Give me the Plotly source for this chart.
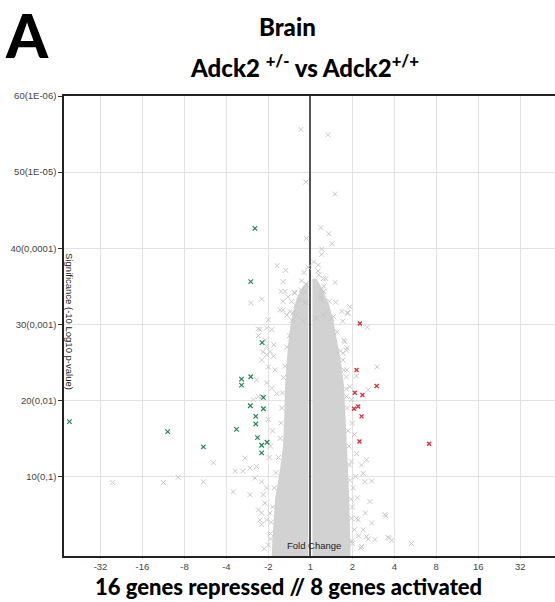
import plotly.graph_objects as go

# ---- axis ticks -------------------------------------------------------------
x_tick_vals = [-5, -4, -3, -2, -1, 0, 1, 2, 3, 4, 5]          # signed log2 fold change
x_tick_text = ["-32", "-16", "-8", "-4", "-2", "1", "2", "4", "8", "16", "32"]
y_tick_vals = [10, 20, 30, 40, 50, 60]
y_tick_text = ["10(0,1)", "20(0,01)", "30(0,001)", "40(0,0001)", "50(1E-05)", "60(1E-06)"]

# ---- dense core of non-significant genes (outline of each lobe) -------------
core_left_fc = [-0.05, -0.05, -0.18, -0.32, -0.42, -0.50, -0.55, -0.60, -0.62, -0.65,
                -0.72, -0.84, -0.90, -0.92]
core_left_sig = [-0.45, 35.5, 35, 33.5, 31.5, 29, 26, 22, 18, 14,
                 11, 7, 2, -0.45]
core_right_fc = [0.05, 0.05, 0.15, 0.30, 0.45, 0.55, 0.63, 0.72, 0.80, 0.84,
                 0.88, 0.92, 0.94, 0.96]
core_right_sig = [-0.45, 36, 36, 34.5, 32.5, 30.5, 28, 25.5, 22, 18,
                  13, 8, 3, -0.45]

# ---- scattered non-significant genes -----------------------------------------
bg_fc = [
    -0.225, 0.42, -0.105, 0.59, 0.25, 0.44, -0.09, 0.52, 0.27, 0.27,
    -0.79, -0.59, 0.19, -0.65, -0.21, -0.105, 0.31, 0.59, 0.37,
    -0.38, -0.12, -0.70, 0.27, 0.31, -1.16, -1.42, -0.65, -0.45, -0.25,
    -0.10, 0.23, 0.60, 0.94, 0.90, -0.65, -0.49, -0.33, 0.15, 0.39,
    0.50, 0.75, -1.00, -1.24, -1.04, -0.92, -0.87, -1.13, -1.16, -1.04,
    1.36, 0.80, 0.87, 0.78, 0.87, 1.10, -1.28, -1.36, 1.59, 1.38,
    -0.60, -0.37, -0.53, -0.13, 0.25, 0.32, -0.72, -0.56, -0.41, -0.17,
    0.11, 0.31, 0.51, 0.77, -1.20, 0.82, 0.86, 0.88, -1.24, -1.08,
    -1.04, -0.96, -0.88, -1.00, -0.84, -1.04, -0.92, -0.80, -1.16, -1.24,
    0.86, 0.94, 0.98, 0.86, 0.78,
    1.00, 1.05, 1.10, 0.98, 1.08, 1.02, 1.12, 1.00, 1.10, 1.05,
    1.15, 1.00, 1.20, 1.30, 1.34, 1.22, 1.26, 1.46, 1.42, 1.31,
    1.80, 1.46, 1.26, 1.14, 1.85, 1.94, 1.38, 1.54, 2.41, 1.22,
    1.78, 1.34, 1.88,
    -1.56, -1.44, -1.28, -1.61, -1.79, -4.71, -3.50, -3.15, -2.55, -2.31,
    -1.32, -1.16, -1.04, -1.12, -1.08, -1.16, -1.04, -1.16, -1.84, -1.44,
    -1.24, -1.20, -0.96, -0.98, -0.95, -1.00, -1.10, -0.95, -0.90, -1.00,
    # ragged rim of the core
    -0.95, -0.93, -0.90, -0.86, -0.82, -0.76, -0.72, -0.70, -0.68, -0.66,
    -0.64, -0.60, -0.56, -0.50, -0.44, -0.35, -0.22,
    0.99, 0.98, 0.97, 0.95, 0.93, 0.92, 0.90, 0.88, 0.86, 0.80,
    0.72, 0.64, 0.55, 0.45, 0.32, 0.18,
    -0.05, 0.08, -0.15, 0.20,
]
bg_sig = [
    55.6, 54.9, 48.7, 47.1, 42.7, 41.9, 41.3, 40.6, 39.9, 39.2,
    37.7, 37.1, 37.8, 35.6, 35.7, 35.3, 36.0, 35.5, 36.0,
    34.2, 34.3, 34.3, 34.5, 34.3, 33.3, 32.8, 33.0, 33.0, 33.2,
    32.9, 33.4, 32.9, 32.3, 31.5, 31.9, 31.7, 31.2, 30.8, 31.7,
    30.8, 31.7, 30.6, 29.4, 29.5, 29.3, 27.3, 26.4, 25.3, 26.0,
    29.6, 27.9, 26.9, 25.3, 24.0, 23.2, 22.7, 20.1, 24.4, 21.4,
    34.3, 34.1, 33.6, 32.8, 33.6, 34.3, 31.9, 31.2, 31.5, 30.4,
    30.8, 31.2, 30.8, 30.4, 29.3, 27.7, 26.6, 31.5, 28.5, 27.9,
    27.1, 26.4, 25.8, 24.4, 24.0, 22.3, 21.6, 20.9, 20.5, 20.5,
    23.1, 21.8, 20.1, 20.5, 26.2,
    17.0, 15.5, 13.0, 12.0, 10.0, 8.5, 7.2, 6.0, 4.5, 3.0,
    2.2, 1.2, 0.6, 9.3, 12.2, 11.5, 10.4, 9.4, 6.7, 5.2,
    4.8, 3.9, 3.0, 4.3, 2.0, 1.6, 1.8, 1.7, 1.2, 0.8,
    5.0, 2.1, 1.9,
    12.4, 11.1, 11.3, 10.7, 10.7, 9.2, 9.2, 9.9, 9.3, 11.8,
    9.8, 9.3, 8.5, 7.6, 6.5, 5.2, 4.3, 3.7, 8.0, 7.6,
    5.6, 4.3, 5.2, 12.5, 2.5, 1.0, 0.5, 14.0, 16.0, 17.5,
    1.8, 4.0, 6.0, 8.5, 10.5, 12.5, 15.0, 17.0, 19.0, 21.0,
    23.0, 24.5, 27.0, 28.5, 30.5, 32.5, 34.5,
    1.5, 4.5, 7.0, 9.5, 11.5, 14.0, 16.0, 19.0, 21.5, 24.0,
    26.5, 29.0, 31.0, 33.0, 35.0, 37.0,
    37.5, 38.2, 36.8, 36.5,
]

# ---- repressed (green) and activated (red) genes ------------------------------
down_fc = [-1.32, -1.42, -1.15, -1.42, -1.64, -1.64, -1.12, -1.43, -1.12, -1.30,
           -1.30, -1.76, -1.26, -1.16, -1.03, -1.16, -5.74, -3.40, -2.55]
down_sig = [42.6, 35.6, 27.6, 23.1, 22.8, 22.0, 20.4, 19.3, 18.9, 17.9,
            16.9, 16.2, 15.1, 14.1, 14.5, 13.1, 17.2, 15.9, 13.9]
up_fc = [1.18, 1.10, 1.58, 1.06, 1.24, 1.14, 1.04, 1.22, 1.17, 2.83]
up_sig = [30.1, 24.0, 21.9, 21.0, 20.7, 19.2, 18.9, 17.9, 14.6, 14.3]

GREY = "#d2d2d2"
fig = go.Figure()

for fx, fy in ((core_left_fc, core_left_sig), (core_right_fc, core_right_sig)):
    fig.add_trace(go.Scatter(x=fx, y=fy, mode="lines", fill="toself",
                             fillcolor=GREY, line=dict(width=0, color=GREY),
                             hoverinfo="skip", showlegend=False))

fig.add_trace(go.Scatter(x=bg_fc, y=bg_sig, mode="markers", showlegend=False,
                         marker=dict(symbol="x-thin", size=5, color="#c8c8c8",
                                     line=dict(width=1, color="#c8c8c8"))))
fig.add_trace(go.Scatter(x=down_fc, y=down_sig, mode="markers", showlegend=False,
                         marker=dict(symbol="x-thin", size=4.5, color="#1f8a4c",
                                     line=dict(width=1.2, color="#1f8a4c"))))
fig.add_trace(go.Scatter(x=up_fc, y=up_sig, mode="markers", showlegend=False,
                         marker=dict(symbol="x-thin", size=4, color="#dc2a36",
                                     line=dict(width=1.3, color="#dc2a36"))))

tick_font = dict(family="Liberation Sans, Arial, sans-serif", size=9.5, color="#444")
title_font = "Lato, 'Open Sans', sans-serif"

fig.update_layout(
    width=555, height=602,
    margin=dict(l=64, r=0, t=96, b=46),
    paper_bgcolor="white", plot_bgcolor="white",
    xaxis=dict(range=[-5.87, 5.83], tickvals=x_tick_vals, ticktext=x_tick_text,
               tickfont=tick_font, showgrid=True, gridcolor="#e2e2e2", gridwidth=1,
               zeroline=True, zerolinecolor="#555", zerolinewidth=1.5,
               showline=True, linecolor="#222", linewidth=1.5, mirror=True,
               ticks="outside", ticklen=1, tickcolor="#cfcfcf",
               layer="above traces"),
    yaxis=dict(range=[-0.45, 60], tickvals=y_tick_vals, ticktext=y_tick_text,
               tickfont=tick_font, showgrid=True, gridcolor="#e2e2e2", gridwidth=1,
               zeroline=False, showline=True, linecolor="#222", linewidth=1.5,
               ticks="outside", ticklen=4, tickcolor="#333", layer="above traces"),
    annotations=[
        dict(text="A", xref="paper", yref="paper", x=-0.075, y=1.133,
             xanchor="center", yanchor="middle", showarrow=False,
             font=dict(family=title_font, size=60, color="black", weight=900)),
        dict(text="Brain", xref="paper", yref="paper", x=0.456, y=1.152,
             xanchor="center", yanchor="middle", showarrow=False,
             font=dict(family=title_font, size=24, color="black", weight=900)),
        dict(text="Adck2 <sup>+/-</sup> vs Adck2<sup>+/+</sup>", xref="paper", yref="paper",
             x=0.489, y=1.065, xanchor="center", yanchor="middle", showarrow=False,
             font=dict(family=title_font, size=24, color="black", weight=900)),
        dict(text="16 genes repressed // 8 genes activated", xref="paper", yref="paper",
             x=0.458, y=-0.066, xanchor="center", yanchor="middle", showarrow=False,
             font=dict(family=title_font, size=22, color="black", weight=900)),
        dict(text="Fold Change", x=0.08, y=0.9, xref="x", yref="y",
             xanchor="center", yanchor="middle", showarrow=False,
             font=dict(family="Liberation Sans, Arial, sans-serif", size=9.5, color="#222")),
        dict(text="Significance (-10 Log10 p-value)", x=-5.73, y=30.3, xref="x", yref="y",
             textangle=90, xanchor="center", yanchor="middle", showarrow=False,
             font=dict(family="Liberation Sans, Arial, sans-serif", size=9.5, color="#222")),
    ],
)

fig.write_html("out.html")
